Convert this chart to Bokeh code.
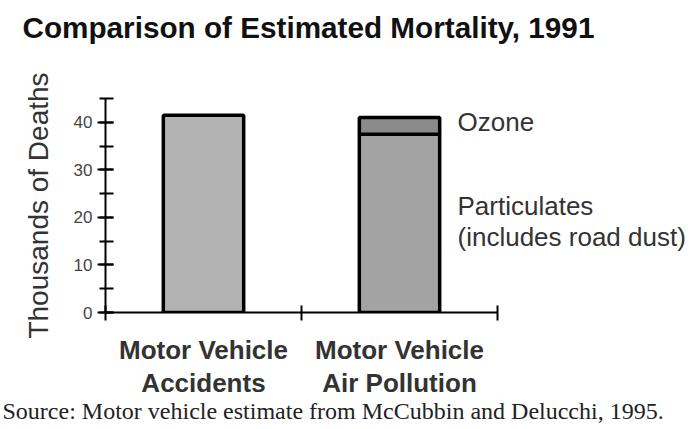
from bokeh.plotting import figure
from bokeh.models import (Range1d, FixedTicker, SingleIntervalTicker,
                          LinearAxis, Title)
from bokeh.embed import file_html
from bokeh.resources import INLINE

# ---- data (thousands of deaths) ----
categories = ["Motor Vehicle\nAccidents", "Motor Vehicle\nAir Pollution"]
cat_pos = [0.5, 1.5]
accidents = [41.5]
particulates = [37.5]
ozone = [3.5]
series_labels = ["Ozone", "Particulates\n(includes road dust)"]
series_label_pos = [40.1, 19.2]

title_text = "Comparison of Estimated Mortality, 1991"
source_text = "Source: Motor vehicle estimate from McCubbin and Delucchi, 1995."

SANS = "Liberation Sans"
SERIF = "Liberation Serif"

p = figure(width=696, height=429, output_backend="svg", toolbar_location=None,
           x_range=Range1d(0, 2), y_range=Range1d(0, 45),
           min_border_left=105, min_border_right=199, min_border_top=98,
           min_border_bottom=117)
p.outline_line_color = None
p.xgrid.visible = False
p.ygrid.visible = False

bw = 0.41
p.vbar(x=[cat_pos[0]], top=accidents, bottom=[0], width=bw,
       fill_color="#b3b3b3", line_color="black", line_width=3.5)
p.vbar(x=[cat_pos[1]], top=particulates, bottom=[0], width=bw,
       fill_color="#a3a3a3", line_color="black", line_width=3.5)
p.vbar(x=[cat_pos[1]], top=[particulates[0] + ozone[0]], bottom=particulates,
       width=bw, fill_color="#8a8a8a", line_color="black", line_width=3.5)

# y axis
ya = p.yaxis[0]
ya.ticker = SingleIntervalTicker(interval=10, num_minor_ticks=2)
ya.axis_line_width = 2
ya.major_tick_line_width = 2
ya.minor_tick_line_width = 2
ya.major_tick_in = 8
ya.major_tick_out = 8
ya.minor_tick_in = 8
ya.minor_tick_out = 6
ya.major_label_text_font = SANS
ya.major_label_text_font_size = "17px"
ya.major_label_text_color = "#444444"
ya.major_label_standoff = 5
ya.axis_label = "Thousands of Deaths"
ya.axis_label_text_font = SANS
ya.axis_label_text_font_size = "28px"
ya.axis_label_text_font_style = "normal"
ya.axis_label_text_color = "#333333"
ya.axis_label_standoff = 17

# x axis: ticks at category boundaries
xa = p.xaxis[0]
xa.ticker = FixedTicker(ticks=[0, 1, 2])
xa.major_label_overrides = {0: "", 1: "", 2: ""}
xa.major_label_text_font_size = "0px"
xa.major_label_standoff = 0
xa.minor_tick_line_color = None
xa.axis_line_width = 2
xa.major_tick_line_width = 2
xa.major_tick_in = 7
xa.major_tick_out = 8

# category labels axis (below, no line / ticks)
ca = LinearAxis(ticker=FixedTicker(ticks=cat_pos),
                major_label_overrides={c: t for c, t in zip(cat_pos, categories)},
                axis_line_color=None, major_tick_line_color=None,
                minor_tick_line_color=None, major_label_standoff=8,
                major_label_text_font=SANS, major_label_text_font_size="26px",
                major_label_text_font_style="bold",
                major_label_text_line_height=1.1,
                major_label_text_color="#333333")
p.add_layout(ca, "below")

# series annotations on the right
ra = LinearAxis(ticker=FixedTicker(ticks=series_label_pos),
                major_label_overrides={v: t for v, t in zip(series_label_pos, series_labels)},
                axis_line_color=None, major_tick_line_color=None,
                minor_tick_line_color=None, major_label_standoff=-46,
                major_label_text_font=SANS, major_label_text_font_size="26px",
                major_label_text_line_height=1.03,
                major_label_text_color="#333333")
p.add_layout(ra, "right")

# invisible spacer axis above the frame (white tick; lifts the title)
sa = LinearAxis(ticker=FixedTicker(ticks=[2]), axis_line_color=None,
                major_tick_line_color="white", major_tick_line_width=1,
                minor_tick_line_color=None,
                major_tick_in=0, major_tick_out=55, minor_tick_out=0,
                major_label_overrides={2: ""},
                major_label_standoff=0, major_label_text_font_size="0px")
p.add_layout(sa, "above")

# title
p.add_layout(Title(text=title_text, text_font=SANS, text_font_size="29.7px",
                   text_font_style="bold", text_color="#111111",
                   align="left", offset=-83, standoff=0), "above")
# source
p.add_layout(Title(text=source_text, text_font=SERIF, text_font_size="24px",
                   text_font_style="normal", text_color="#222222",
                   align="left", offset=-103, standoff=-9), "below")

open("out.html", "w").write(file_html(p, INLINE))
